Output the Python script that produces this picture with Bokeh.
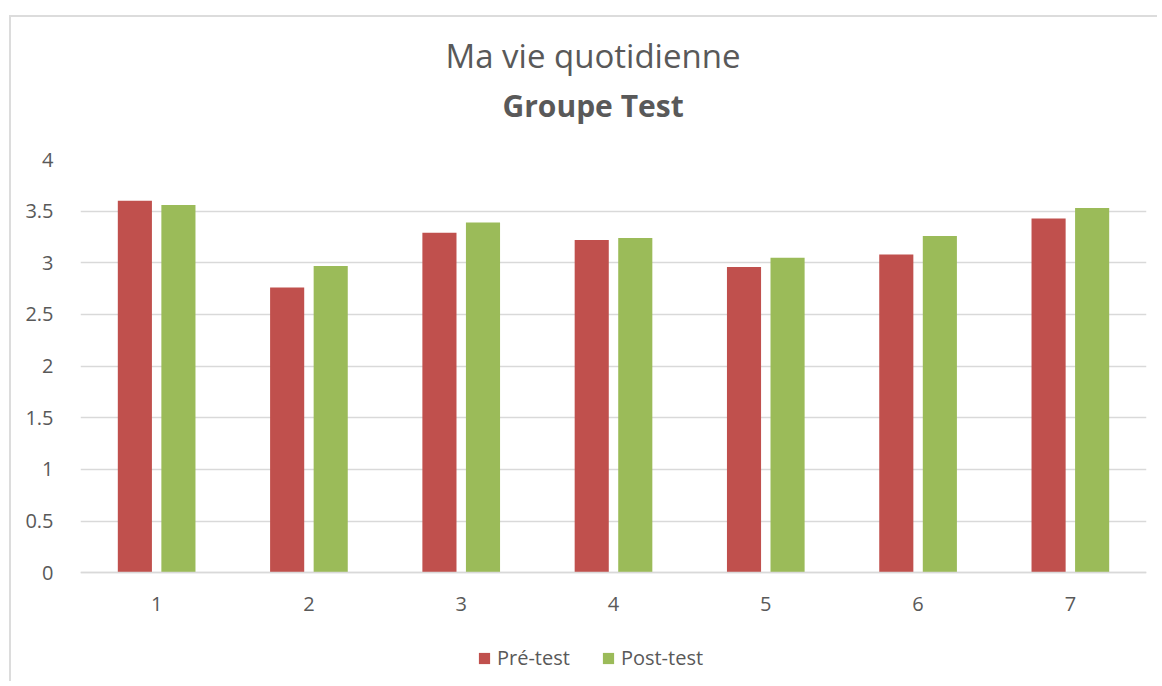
from bokeh.plotting import figure
from bokeh.models import (FactorRange, Range1d, FixedTicker, Title, Legend, LegendItem,
                          ColumnDataSource)
from bokeh.transform import dodge
from bokeh.embed import file_html
from bokeh.resources import INLINE

# ---- data ----
categories = ["1", "2", "3", "4", "5", "6", "7"]
pre_test = [3.60, 2.76, 3.29, 3.22, 2.96, 3.08, 3.43]
post_test = [3.56, 2.97, 3.39, 3.24, 3.05, 3.26, 3.53]
series_names = ["Pré-test", "Post-test"]
y_ticks = [0, 0.5, 1, 1.5, 2, 2.5, 3, 3.5, 4]
y_tick_labels = ["0", "0.5", "1", "1.5", "2", "2.5", "3", "3.5", "4"]
title_main = "Ma vie quotidienne"
title_sub = "Groupe Test"

FONT = "Open Sans"
TXT = "#595959"
GRID = "#d9d9d9"
RED = "#C0504D"
GREEN = "#9BBB59"

src = ColumnDataSource(dict(cat=categories, pre=pre_test, post=post_test))

# frame extends below zero so that the axis labels and legend sit inside it
p = figure(x_range=FactorRange(factors=categories, range_padding=0),
           y_range=Range1d(-1.034, 4),
           width=1148, height=666,
           min_border_left=69, min_border_right=13,
           min_border_top=142, min_border_bottom=4,
           output_backend="svg", toolbar_location=None,
           background_fill_color="white", border_fill_color="white",
           styles={"position": "relative", "top": "15px", "left": "9px",
                   "border-top": "2px solid #dcdcdc", "border-left": "2px solid #dcdcdc"})

r_pre = p.vbar(x=dodge("cat", -0.143, range=p.x_range), top="pre", width=0.224,
               source=src, fill_color=RED, line_color=None)
r_post = p.vbar(x=dodge("cat", 0.143, range=p.x_range), top="post", width=0.224,
                source=src, fill_color=GREEN, line_color=None)

p.outline_line_color = None
p.xgrid.grid_line_color = None
p.ygrid.grid_line_color = GRID
p.ygrid.grid_line_width = 1.5
p.yaxis.ticker = FixedTicker(ticks=y_ticks)
p.yaxis.major_label_overrides = {t: s for t, s in zip(y_ticks, y_tick_labels)}

for ax in (p.xaxis[0], p.yaxis[0]):
    ax.major_tick_line_color = None
    ax.minor_tick_line_color = None
    ax.major_label_text_font = FONT
    ax.major_label_text_font_size = "20px"
    ax.major_label_text_color = TXT
p.yaxis.axis_line_color = None
p.yaxis.major_label_standoff = 21
p.xaxis.fixed_location = 0
p.xaxis.axis_line_color = GRID
p.xaxis.axis_line_width = 1.5
p.xaxis.major_label_standoff = 18

p.add_layout(Title(text=title_sub, align="left", offset=422, text_font=FONT,
                   text_font_size="30px", text_font_style="bold", text_color=TXT,
                   standoff=67), "above")
p.add_layout(Title(text=title_main, align="left", offset=365, text_font=FONT,
                   text_font_size="33px", text_font_style="normal", text_color=TXT,
                   standoff=-56), "above")

legend = Legend(items=[LegendItem(label=series_names[0], renderers=[r_pre]),
                       LegendItem(label=series_names[1], renderers=[r_post])],
                orientation="horizontal", location=(397, 8),
                label_text_font=FONT, label_text_font_size="20px", label_text_color=TXT,
                glyph_width=14, glyph_height=14, label_standoff=6, spacing=31,
                padding=0, margin=0, border_line_color=None, background_fill_alpha=0)
p.add_layout(legend, "center")

open("out.html", "w").write(file_html(p, INLINE))
